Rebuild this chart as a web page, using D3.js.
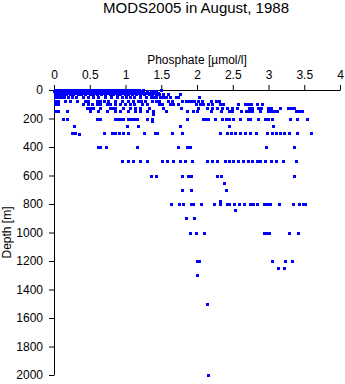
<!DOCTYPE html>
<html>
<head>
<meta charset="utf-8">
<script src="https://cdn.jsdelivr.net/npm/d3@7"></script>
<style>
html,body{margin:0;padding:0;background:#fff;}
svg{display:block;font-family:"Liberation Sans",Arial,Helvetica,sans-serif;}
</style>
</head>
<body>
<svg id="chart" width="345" height="384"></svg>
<script>
const titleText = "MODS2005 in August, 1988";
const xLabel = "Phosphate [\u00b5mol/l]";
const yLabel = "Depth [m]";
const xTicks = [0, 0.5, 1, 1.5, 2, 2.5, 3, 3.5, 4];
const yTicks = [0, 200, 400, 600, 800, 1000, 1200, 1400, 1600, 1800, 2000];

const depthLevels = [0, 10, 20, 30, 50, 75, 100, 125, 150, 170, 200, 220, 250, 300, 310, 400, 500, 600, 650, 700, 780, 800, 840, 900, 1000, 1200, 1250, 1300, 1500, 2000];
const phosphateByLevel = [
  [0.01,0.04,0.07,0.1,0.13,0.16,0.19,0.22,0.25,0.28,0.31,0.34,0.37,0.4,0.43,0.46,0.49,0.52,0.55,0.58,0.61,0.64,0.67,0.7,0.73,0.76,0.79,0.82,0.85,0.88,0.91,0.94,0.97,1.0,1.03,1.06,1.1,1.14,1.19,1.24,1.5],
  [0.0,0.03,0.06,0.09,0.12,0.15,0.18,0.21,0.24,0.27,0.3,0.33,0.36,0.39,0.42,0.46,0.5,0.53,0.56,0.59,0.62,0.65,0.68,0.71,0.74,0.77,0.8,0.83,0.86,0.89,0.92,0.95,0.98,1.01,1.04,1.07,1.1,1.13,1.16,1.2,1.25,1.3,1.35,1.39,1.43],
  [0.02,0.05,0.08,0.11,0.14,0.17,0.2,0.24,0.28,0.32,0.36,0.4,0.44,0.48,0.52,0.56,0.6,0.64,0.68,0.72,0.76,0.8,0.84,0.88,0.92,0.96,1.0,1.04,1.08,1.12,1.17,1.22,1.27,1.32,1.36,1.41,1.46],
  [0.01,0.04,0.07,0.1,0.13,0.17,0.22,0.27,0.33,0.38,0.44,0.5,0.55,0.6,0.66,0.72,0.78,0.83,0.88,0.93,0.99,1.04,1.09,1.15,1.2,1.26,1.33,1.37,1.42,1.47,1.52,1.6,1.76],
  [0.01,0.04,0.07,0.1,0.14,0.2,0.25,0.31,0.4,0.48,0.55,0.62,0.72,0.8,0.88,0.95,1.0,1.06,1.12,1.2,1.28,1.35,1.39,1.43,1.48,1.53,1.57,1.62,1.7,1.73,2.03],
  [0.02,0.05,0.15,0.22,0.32,0.43,0.47,0.6,0.64,0.7,0.76,0.85,0.95,1.04,1.1,1.17,1.22,1.27,1.37,1.42,1.47,1.6,1.65,1.79,1.84,1.88,1.92,1.96,2.02,2.07,2.2,2.27,2.31],
  [0.02,0.05,0.41,0.47,0.53,0.6,0.65,0.74,0.78,0.85,0.92,0.99,1.06,1.12,1.23,1.3,1.47,1.51,1.62,1.66,1.73,1.99,2.04,2.08,2.15,2.21,2.32,2.36,2.57,2.67,2.72,2.76,2.84,2.91],
  [0.46,0.5,0.55,0.64,0.78,0.82,0.86,0.96,1.06,1.13,1.2,1.33,1.52,1.78,2.01,2.14,2.21,2.28,2.35,2.42,2.49,2.56,2.73,2.77,2.86,2.9,2.99,3.03,3.16,3.27,3.31,3.35],
  [0.02,0.05,0.18,0.5,0.62,0.74,0.85,0.92,1.03,1.13,1.2,1.3,1.38,1.57,1.86,1.94,2.0,2.2,2.34,2.45,2.49,2.62,2.68,2.73,2.77,2.88,2.99,3.03,3.07,3.12,3.38,3.43,3.47],
  [1.38],
  [0.13,0.18,0.6,0.64,0.85,0.88,0.92,0.97,1.03,1.07,1.12,1.16,1.3,1.37,1.86,2.08,2.12,2.16,2.25,2.35,2.4,2.45,2.5,2.6,2.71,2.74,2.85,2.95,2.99,3.05,3.3,3.4,3.54],
  [1.37],
  [0.28,1.02,1.17,1.76,2.45,3.06],
  [0.25,0.3,0.7,0.81,0.85,0.91,0.97,1.03,1.26,1.41,1.44,1.65,1.79,2.32,2.42,2.47,2.53,2.6,2.67,2.74,2.83,2.98,3.05,3.1,3.16,3.22,3.28,3.4,3.59],
  [0.35],
  [0.62,0.65,0.73,1.16,1.73,1.86,1.9,2.97,3.36],
  [0.95,1.04,1.1,1.2,1.3,1.51,1.58,1.66,1.76,1.83,1.93,2.14,2.21,2.28,2.39,2.45,2.5,2.57,2.64,2.71,2.77,2.84,2.88,2.95,3.03,3.1,3.2,3.38],
  [1.36,1.43,1.79,1.88,1.92,2.28,2.33,3.36],
  [2.38],
  [1.79,1.92,2.41],
  [2.32],
  [1.64,1.75,1.8,1.92,1.94,2.06,2.24,2.32,2.42,2.45,2.52,2.59,2.66,2.74,2.79,2.84,2.94,2.98,3.02,3.15,3.34,3.43,3.48,3.51],
  [2.53],
  [1.85,1.96],
  [1.9,1.99,2.1,2.94,2.98,3.01,3.29,3.41],
  [2.0,2.03,3.05,3.23,3.33],
  [3.13,3.22],
  [2.0],
  [2.14],
  [2.15]
];

const points = [];
depthLevels.forEach((d, i) => phosphateByLevel[i].forEach(p => points.push({p, d})));

const svg = d3.select("#chart");
const x = d3.scaleLinear().domain([0, 4]).range([54, 340]);
const y = d3.scaleLinear().domain([0, 2000]).range([90, 375]);

svg.append("text")
  .attr("x", 196).attr("y", 12.5)
  .attr("text-anchor", "middle")
  .attr("font-size", 15)
  .text(titleText);

const xAxis = svg.append("g")
  .attr("transform", `translate(0,${y(0)})`)
  .call(d3.axisTop(x).tickValues(xTicks).tickFormat(d3.format("~g")).tickSize(5).tickSizeOuter(0).tickPadding(6));
const yAxis = svg.append("g")
  .attr("transform", `translate(${x(0)},0)`)
  .call(d3.axisLeft(y).tickValues(yTicks).tickFormat(d3.format("d")).tickSize(5).tickSizeOuter(0).tickPadding(6));

[xAxis, yAxis].forEach(g => {
  g.selectAll("path,line").attr("stroke", "#000");
  g.selectAll("text").attr("fill", "#000").attr("font-size", 12)
   .attr("font-family", "\"Liberation Sans\",Arial,Helvetica,sans-serif");
});

svg.append("text")
  .attr("x", 197).attr("y", 64)
  .attr("text-anchor", "middle")
  .attr("font-size", 12)
  .text(xLabel);

svg.append("text")
  .attr("transform", `translate(11,${(y(0) + y(2000)) / 2}) rotate(-90)`)
  .attr("text-anchor", "middle")
  .attr("font-size", 12)
  .text(yLabel);

svg.append("g")
  .selectAll("rect")
  .data(points)
  .join("rect")
  .attr("x", d => Math.round(x(d.p)) - 1)
  .attr("y", d => Math.round(y(d.d)) - 1)
  .attr("width", 3)
  .attr("height", 3)
  .attr("fill", "#0000ff");
</script>
</body>
</html>
